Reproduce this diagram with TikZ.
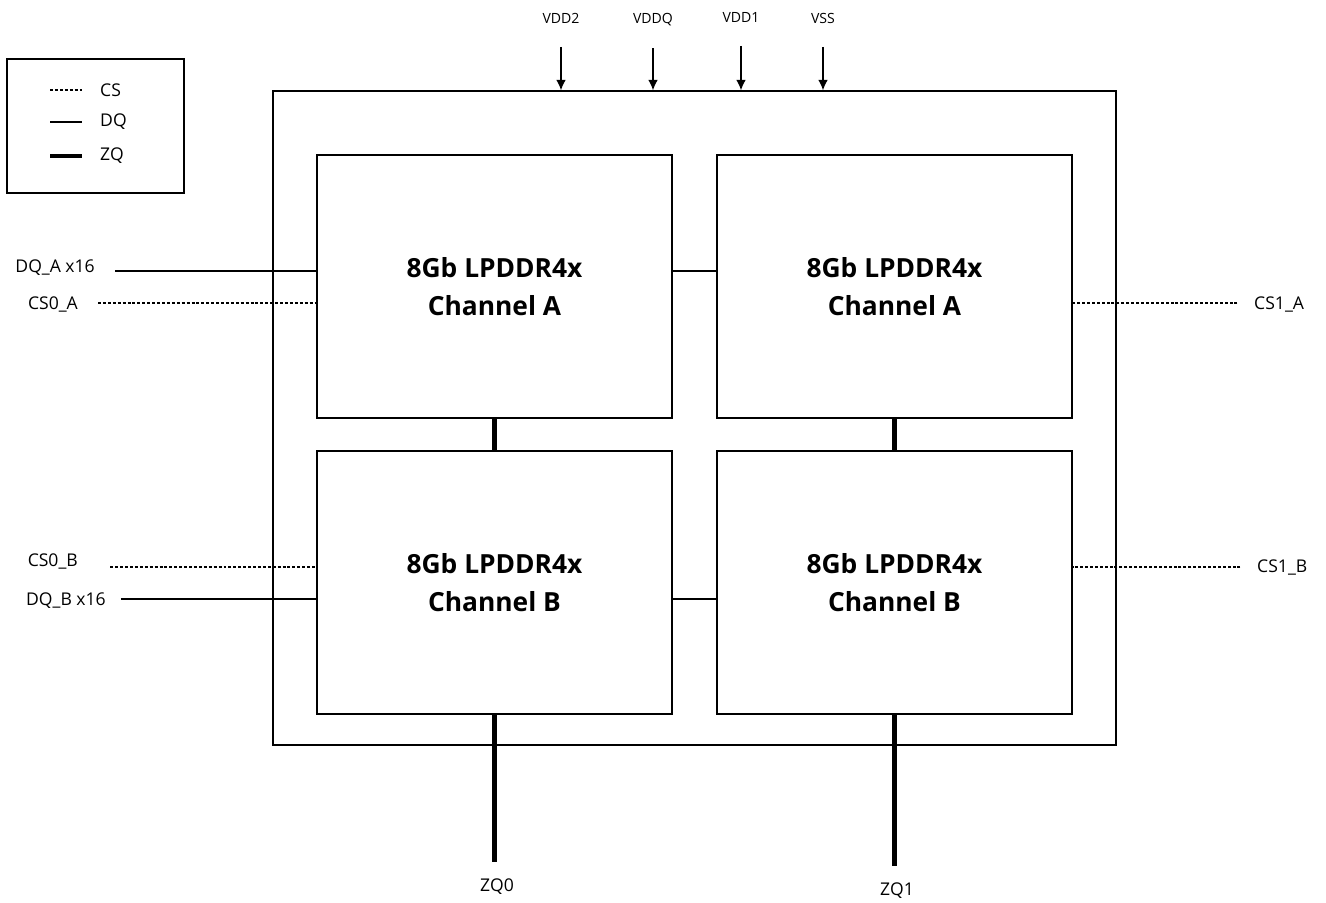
\documentclass[tikz,border=0pt]{standalone}
\usepackage{fontspec}
\setmainfont{Open Sans}
\usetikzlibrary{arrows.meta}

\begin{document}
\begin{tikzpicture}
        [
            x=0.02cm, y=-0.02cm,
            chip/.style = {draw, shape=rectangle, minimum width=7.1cm, minimum height=5.26cm, line width=0.8pt, align=center, font=\fontsize{15}{21.5}\selectfont\bfseries},
            frame/.style = {draw, shape=rectangle, line width=0.8pt},
            pinlabel/.style = {font=\fontsize{10}{12}\selectfont},
            supply/.style = {font=\fontsize{8}{10}\selectfont},
            dqline/.style = {line width=0.8pt},
            csline/.style = {line width=0.6pt, dash pattern=on 1.7pt off 1.1pt},
            zqline/.style = {line width=2.4pt},
            feed/.style = {-{Latex[length=6pt,width=5.5pt]}, line width=0.8pt},
        ]
        \useasboundingbox (0,0) rectangle (1326,903);

        \node[frame, minimum width=16.86cm, minimum height=13.08cm] (pkg) at (694.5,418) {};
        \node[frame, minimum width=3.54cm, minimum height=2.68cm] (legend) at (95.5,126) {};

        \node[chip] (a0) at (494.5,286.5) {8Gb LPDDR4x\\Channel A};
        \node[chip] (a1) at (894.5,286.5) {8Gb LPDDR4x\\Channel A};
        \node[chip] (b0) at (494.5,582.5) {8Gb LPDDR4x\\Channel B};
        \node[chip] (b1) at (894.5,582.5) {8Gb LPDDR4x\\Channel B};

        % legend
        \node[pinlabel, anchor=west] (lcs) at (94,90) {CS};
        \node[pinlabel, anchor=west] (ldq) at (94,122) {DQ};
        \node[pinlabel, anchor=west] (lzq) at (94,156) {ZQ};
        \draw [csline] (lcs.west) ++(-44,0) -- ++(32,0);
        \draw [dqline] (ldq.west) ++(-44,0) -- ++(32,0);
        \draw [zqline] (lzq.west) ++(-44,0) -- ++(32,0);

        % supplies
        \node[supply] (vdd2) at (561,18) {VDD2};
        \node[supply] (vddq) at (653,20) {VDDQ};
        \node[supply] (vdd1) at (741,17) {VDD1};
        \node[supply] (vss) at (823,18) {VSS};
        \draw [feed, shorten <=10pt] (vdd2.south) -- (vdd2.south |- pkg.north);
        \draw [feed, shorten <=9pt] (vddq.south) -- (vddq.south |- pkg.north);
        \draw [feed, shorten <=10pt] (vdd1.south) -- (vdd1.south |- pkg.north);
        \draw [feed, shorten <=10pt] (vss.south) -- (vss.south |- pkg.north);

        % side pins
        \coordinate (rdqa) at (0,271);
        \coordinate (rcsa) at (0,303);
        \coordinate (rcsb) at (0,567);
        \coordinate (rdqb) at (0,599);

        \node[pinlabel, anchor=east] (dqa) at (101,268) {DQ\_A x16};
        \node[pinlabel, anchor=east] (cs0a) at (84,304) {CS0\_A};
        \node[pinlabel, anchor=east] (cs0b) at (84,561) {CS0\_B};
        \node[pinlabel, anchor=east] (dqb) at (112,601) {DQ\_B x16};
        \node[pinlabel, anchor=west] (cs1a) at (1248,304) {CS1\_A};
        \node[pinlabel, anchor=west] (cs1b) at (1251,567) {CS1\_B};

        \draw [dqline, shorten <=8pt] (dqa.east |- rdqa) -- (a0.west |- rdqa);
        \draw [csline, shorten <=8pt] (cs0a.east |- rcsa) -- (a0.west |- rcsa);
        \draw [csline, shorten <=15pt] (cs0b.east |- rcsb) -- (b0.west |- rcsb);
        \draw [dqline, shorten <=5pt] (dqb.east |- rdqb) -- (b0.west |- rdqb);
        \draw [csline, shorten <=6pt] (cs1a.west |- rcsa) -- (a1.east |- rcsa);
        \draw [csline, shorten <=6pt] (cs1b.west |- rcsb) -- (b1.east |- rcsb);

        \draw [dqline] (a0.east |- rdqa) -- (a1.west |- rdqa);
        \draw [dqline] (b0.east |- rdqb) -- (b1.west |- rdqb);

        % zq
        \node[pinlabel] (zq0) at (497,887) {ZQ0};
        \node[pinlabel] (zq1) at (897,891) {ZQ1};
        \draw [zqline] (a0.south) -- (b0.north);
        \draw [zqline] (a1.south) -- (b1.north);
        \draw [zqline, shorten >=6pt] (b0.south) -- (b0.south |- zq0.north);
        \draw [zqline, shorten >=6pt] (b1.south) -- (b1.south |- zq1.north);
    \end{tikzpicture}
\end{document}
